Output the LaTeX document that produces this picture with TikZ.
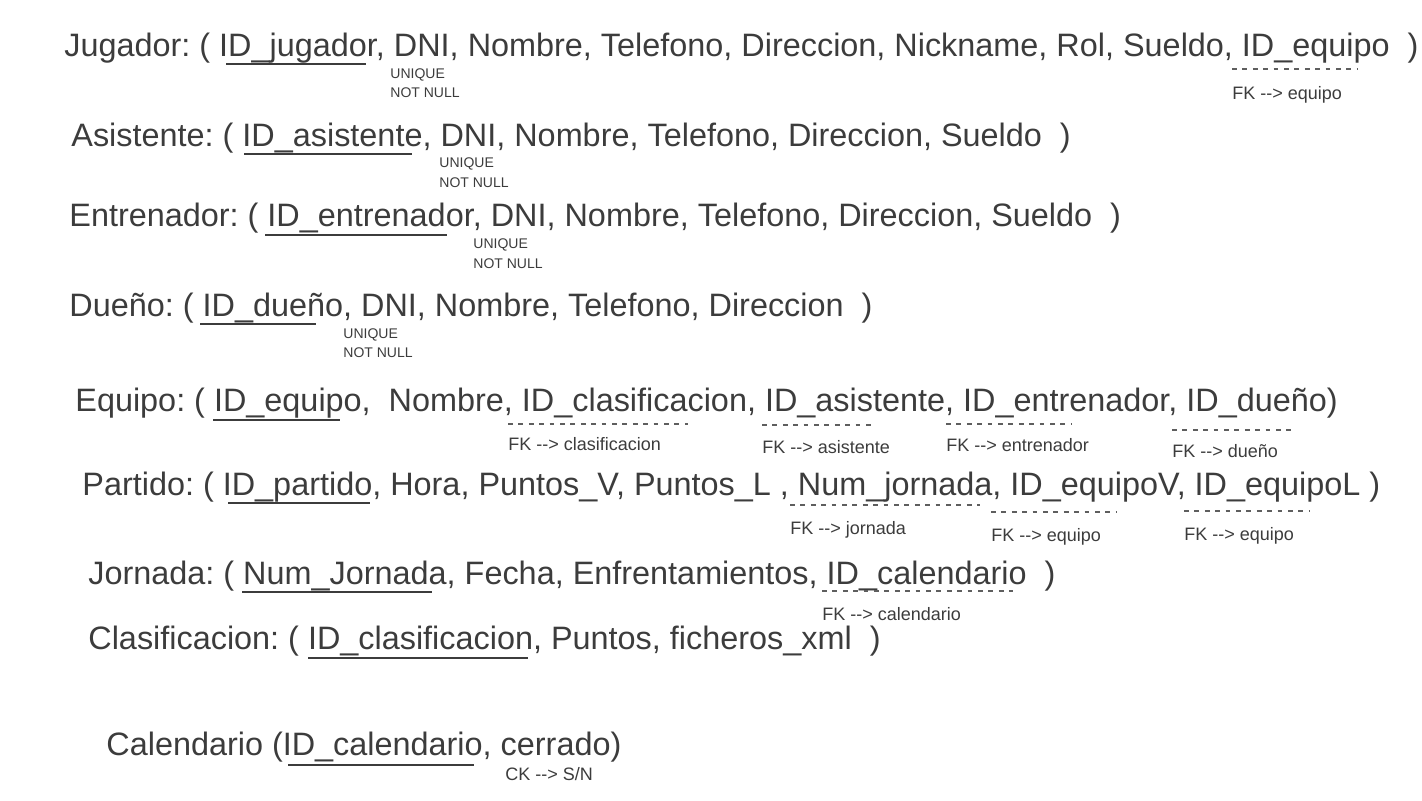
\documentclass[tikz,border=0pt]{standalone}
\usepackage{fontspec}
\setmainfont{Liberation Sans}
\frenchspacing
\definecolor{ink}{HTML}{3C3C3C}
\definecolor{dashgray}{HTML}{5E5E5E}
\newcommand\fkarrow{-{}-{}>}

\begin{document}
\begin{tikzpicture}[x=0.5pt,y=-0.5pt,
    every node/.style={inner sep=0pt, anchor=base west, text=ink},
    rel/.style={font=\fontsize{16.2}{19}\selectfont},
    note/.style={font=\fontsize{7}{8}\selectfont},
    fk/.style={font=\fontsize{9}{10}\selectfont},
    pk/.style={draw=ink, line width=1pt},
    fkline/.style={draw=dashgray, line width=0.55pt, dash pattern=on 2.4pt off 2.8pt}]
  \useasboundingbox (0,0) rectangle (1422,800);

  % tablas
  \node[rel] (jugador) at (64,56) {Jugador: ( ID\_jugador, DNI, Nombre, Telefono, Direccion, Nickname, Rol, Sueldo, ID\_equipo \ )};
  \node[rel] (asistente) at (71,146) {Asistente: ( ID\_asistente, DNI, Nombre, Telefono, Direccion, Sueldo \ )};
  \node[rel] (entrenador) at (69,226) {Entrenador: ( ID\_entrenador, DNI, Nombre, Telefono, Direccion, Sueldo \ )};
  \node[rel] (duenio) at (69,316) {Dueño: ( ID\_dueño, DNI, Nombre, Telefono, Direccion \ )};
  \node[rel] (equipo) at (75,411) {Equipo: ( ID\_equipo, \ Nombre, ID\_clasificacion, ID\_asistente, ID\_entrenador, ID\_dueño)};
  \node[rel] (partido) at (82,495) {Partido: ( ID\_partido, Hora, Puntos\_V, Puntos\_L , Num\_jornada, ID\_equipoV, ID\_equipoL )};
  \node[rel] (jornada) at (88,584) {Jornada: ( Num\_Jornada, Fecha, Enfrentamientos, ID\_calendario \ )};
  \node[rel] (clasificacion) at (88,649) {Clasificacion: ( ID\_clasificacion, Puntos, ficheros\_xml \ )};
  \node[rel] (calendario) at (106,755) {Calendario (ID\_calendario, cerrado)};

  % claves primarias
  \draw[pk] (226,64) -- (366,64);
  \draw[pk] (244,154) -- (412,154);
  \draw[pk] (265,235) -- (447,235);
  \draw[pk] (200,324) -- (316,324);
  \draw[pk] (213,420) -- (340,420);
  \draw[pk] (228,503) -- (370,503);
  \draw[pk] (242,592) -- (432,592);
  \draw[pk] (308,658) -- (528,658);
  \draw[pk] (288,765) -- (474,765);

  % restricciones DNI
  \node[note] (jugU) at (390,78) {UNIQUE};
  \node[note] (jugN) at (390,97) {NOT NULL};
  \node[note] (asiU) at (439,167) {UNIQUE};
  \node[note] (asiN) at (439,187) {NOT NULL};
  \node[note] (entU) at (473,248) {UNIQUE};
  \node[note] (entN) at (473,268) {NOT NULL};
  \node[note] (duU) at (343,338) {UNIQUE};
  \node[note] (duN) at (343,357) {NOT NULL};

  % claves ajenas
  \draw[fkline] (1232,69) -- (1357,69);
  \node[fk] (fkjug) at (1232,99) {FK \fkarrow{} equipo};

  \draw[fkline] (508,424) -- (688,424);
  \draw[fkline] (762,425) -- (872,425);
  \draw[fkline] (946,424) -- (1071,424);
  \draw[fkline] (1172,430) -- (1296,430);
  \node[fk] (fkcla) at (508,450) {FK \fkarrow{} clasificacion};
  \node[fk] (fkasi) at (762,453) {FK \fkarrow{} asistente};
  \node[fk] (fkent) at (946,451) {FK \fkarrow{} entrenador};
  \node[fk] (fkdue) at (1172,457) {FK \fkarrow{} dueño};

  \draw[fkline] (790,505) -- (980,505);
  \draw[fkline] (991,512) -- (1117,512);
  \draw[fkline] (1184,511) -- (1310,511);
  \node[fk] (fkjor) at (790,534) {FK \fkarrow{} jornada};
  \node[fk] (fkeqv) at (991,541) {FK \fkarrow{} equipo};
  \node[fk] (fkeql) at (1184,540) {FK \fkarrow{} equipo};

  \draw[fkline] (822,591) -- (1013,591);
  \node[fk] (fkcal) at (822,620) {FK \fkarrow{} calendario};

  \node[fk] (ckcer) at (505,780) {CK \fkarrow{} S/N};
\end{tikzpicture}
\end{document}
